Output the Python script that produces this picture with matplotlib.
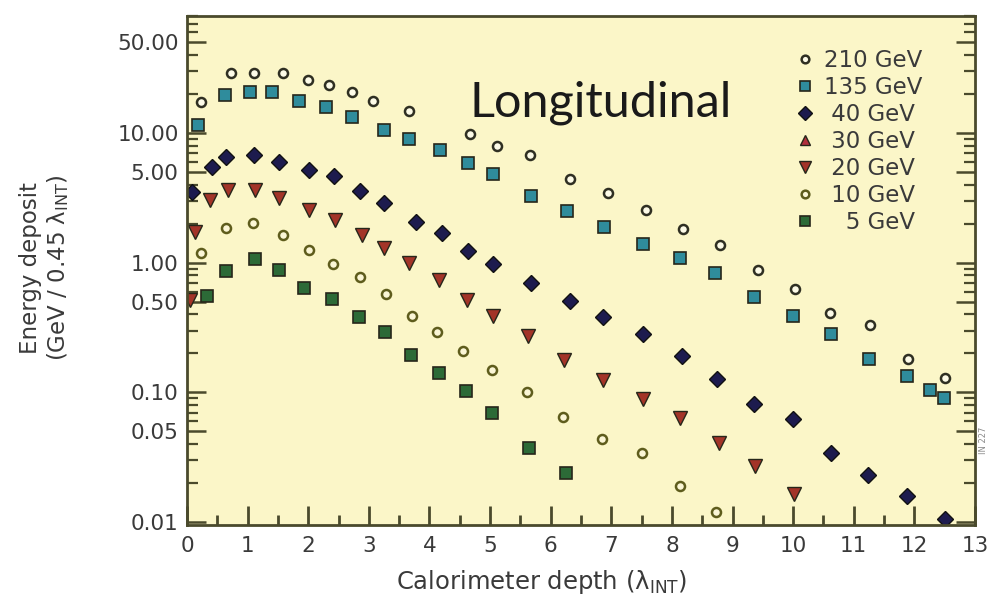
import matplotlib
matplotlib.use("Agg")
import matplotlib.pyplot as plt
from matplotlib.ticker import FixedLocator, LogLocator, FuncFormatter, MultipleLocator

plt.rcParams['font.family'] = ['DejaVu Sans']
plt.rcParams['mathtext.fontset'] = 'dejavusans'
plt.rcParams['mathtext.default'] = 'regular'

# depth in lambda_INT, deposit in GeV / 0.45 lambda_INT
x_210 = [0.23, 0.73, 1.11, 1.58, 2.00, 2.34, 2.72, 3.07, 3.66, 4.67, 5.12, 5.66, 6.32,
         6.95, 7.57, 8.18, 8.80, 9.42, 10.03, 10.61, 11.27, 11.90, 12.51]
y_210 = [17.5, 29.3, 29.3, 29.3, 25.9, 23.7, 20.9, 17.8, 14.7, 9.9, 7.9, 6.8, 4.46,
         3.48, 2.56, 1.83, 1.38, 0.88, 0.63, 0.41, 0.33, 0.18, 0.13]

x_135 = [0.18, 0.63, 1.04, 1.40, 1.85, 2.29, 2.72, 3.25, 3.66, 4.17, 4.64, 5.05, 5.68,
         6.27, 6.88, 7.52, 8.14, 8.71, 9.36, 10.00, 10.63, 11.25, 11.88, 12.26, 12.49]
y_135 = [11.6, 19.8, 20.6, 20.6, 17.8, 16.0, 13.2, 10.6, 9.07, 7.46, 5.92, 4.87, 3.29,
         2.52, 1.90, 1.40, 1.09, 0.84, 0.54, 0.39, 0.28, 0.18, 0.134, 0.104, 0.091]

x_40 = [0.08, 0.41, 0.64, 1.11, 1.52, 2.01, 2.43, 2.85, 3.25, 3.78, 4.21, 4.64, 5.05,
        5.68, 6.32, 6.86, 7.52, 8.17, 8.75, 9.36, 10.00, 10.63, 11.24, 11.88, 12.51]
y_40 = [3.53, 5.51, 6.59, 6.82, 6.03, 5.22, 4.70, 3.60, 2.90, 2.07, 1.71, 1.24, 0.98,
        0.70, 0.51, 0.38, 0.28, 0.19, 0.127, 0.081, 0.062, 0.034, 0.023, 0.016, 0.0105]

x_30 = []
y_30 = []

x_20 = [0.05, 0.13, 0.38, 0.68, 1.12, 1.52, 2.01, 2.44, 2.89, 3.25, 3.66, 4.16, 4.62,
        5.05, 5.63, 6.22, 6.86, 7.52, 8.14, 8.78, 9.37, 10.02]
y_20 = [0.52, 1.73, 3.06, 3.66, 3.66, 3.18, 2.56, 2.15, 1.64, 1.31, 1.00, 0.74, 0.52,
        0.39, 0.27, 0.178, 0.125, 0.089, 0.064, 0.041, 0.027, 0.0164]

x_10 = [0.23, 0.64, 1.09, 1.58, 2.01, 2.41, 2.85, 3.28, 3.71, 4.13, 4.55, 5.03, 5.61,
        6.20, 6.85, 7.51, 8.14, 8.73]
y_10 = [1.19, 1.86, 2.04, 1.64, 1.26, 0.98, 0.77, 0.57, 0.39, 0.29, 0.21, 0.149, 0.101,
        0.065, 0.044, 0.034, 0.019, 0.0119]

x_5 = [0.33, 0.64, 1.12, 1.52, 1.93, 2.39, 2.84, 3.27, 3.70, 4.16, 4.60, 5.03, 5.64, 6.25]
y_5 = [0.55, 0.87, 1.07, 0.88, 0.64, 0.53, 0.38, 0.29, 0.195, 0.142, 0.103, 0.069, 0.037, 0.024]

y_ticks = [0.01, 0.05, 0.1, 0.5, 1, 5, 10, 50]
x_ticks = list(range(0, 14))

bg = '#fbf6c8'
edge = '#26261a'

fig = plt.figure(figsize=(9.99, 6.06), dpi=100)
ax = fig.add_axes([0.1872, 0.1337, 0.7888, 0.8399])
ax.set_facecolor(bg)

ax.plot(x_210, y_210, 'o', ms=6.5, mfc='#fdfbe8', mec='#2f2f22', mew=1.8, ls='none', label='210 GeV')
ax.plot(x_135, y_135, 's', ms=8, mfc='#2f8c9c', mec=edge, mew=1.2, ls='none', label='135 GeV')
ax.plot(x_40, y_40, 'D', ms=8.5, mfc='#1d1b4e', mec='#111111', mew=1.0, ls='none', label=' 40 GeV')
ax.plot(x_30, y_30, '^', ms=9, mfc='#b1303d', mec=edge, mew=1.0, ls='none', label=' 30 GeV')
ax.plot(x_20, y_20, 'v', ms=10, mfc='#a33428', mec=edge, mew=1.0, ls='none', label=' 20 GeV')
ax.plot(x_10, y_10, 'o', ms=6.5, mfc='#fbf6d6', mec='#5e5c1c', mew=1.8, ls='none', label=' 10 GeV')
ax.plot(x_5, y_5, 's', ms=8, mfc='#2c6a37', mec=edge, mew=1.2, ls='none', label='   5 GeV')

ax.set_yscale('log')
ax.set_xlim(0, 13)
ax.set_ylim(0.0095, 80)

ax.yaxis.set_major_locator(FixedLocator(y_ticks))
ax.yaxis.set_major_formatter(FuncFormatter(lambda v, p: f"{v:.2f}"))
ax.yaxis.set_minor_locator(LogLocator(base=10, subs=range(2, 10)))
ax.xaxis.set_major_locator(FixedLocator(x_ticks))
ax.xaxis.set_minor_locator(MultipleLocator(0.5))

tick_col = '#4a4a2c'
ax.tick_params(axis='x', which='major', direction='in', length=14, width=2, color=tick_col,
               labelsize=15.5, labelcolor='#3a3a3a', pad=8, top=False)
ax.tick_params(axis='x', which='minor', direction='in', length=7, width=2, color=tick_col, top=False)
ax.tick_params(axis='y', which='major', direction='in', length=14, width=1.8, color=tick_col,
               labelsize=15.5, labelcolor='#3a3a3a', pad=6, right=True)
ax.tick_params(axis='y', which='minor', direction='in', length=8, width=1.6, color=tick_col, right=True)

for s in ax.spines.values():
    s.set_color('#4a4a2c')
    s.set_linewidth(2)

leg = ax.legend(loc='upper left', bbox_to_anchor=(784 / 999, 1 - 38 / 606),
                bbox_transform=fig.transFigure, frameon=False, fontsize=16.5,
                handlelength=0.8, handletextpad=0.45, labelspacing=0.17, borderpad=0,
                markerscale=0.85)
for t in leg.get_texts():
    t.set_color('#3a3a3a')

fig.text(470 / 999, 1 - 117 / 606, 'Longitudinal', family='Lato', fontsize=35,
         color='#1a1a1a', ha='left', va='baseline')

fig.text(45 / 999, 1 - 268 / 606,
         'Energy deposit\n(GeV / 0.45 $\\lambda_{INT}$)',
         rotation=90, ha='center', va='center', multialignment='center',
         fontsize=16.5, color='#3a3a3a', linespacing=1.2)
fig.text(542 / 999, 1 - 582 / 606, 'Calorimeter depth ($\\lambda_{INT}$)',
         ha='center', va='center', fontsize=17.5, color='#3a3a3a')

fig.text(983 / 999, 1 - 440 / 606, 'IN 227', rotation=90, ha='center', va='center',
         fontsize=6, color='#8a8a8a')

fig.savefig('out.png', dpi=100, facecolor='white')
